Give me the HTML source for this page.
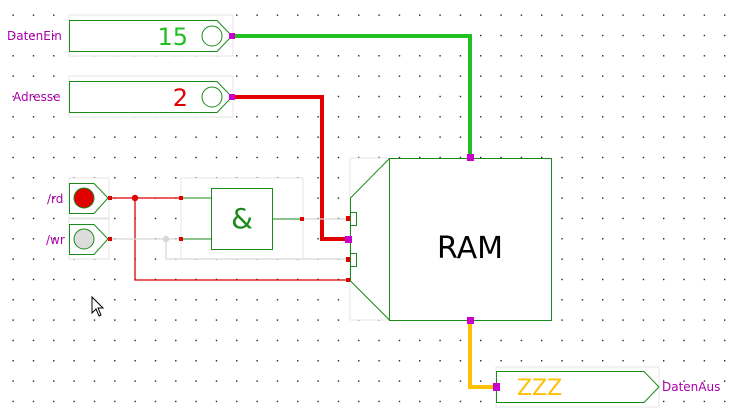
<!DOCTYPE html>
<html><head><meta charset="utf-8"><style>
html,body{margin:0;padding:0;background:#fff;width:733px;height:416px;overflow:hidden}
svg{display:block}
text{font-family:"DejaVu Sans","Liberation Sans",sans-serif}
</style></head><body>
<svg width="733" height="416" viewBox="0 0 733 416" xmlns="http://www.w3.org/2000/svg">
<defs>
<pattern id="g" x="12" y="14" width="20.33" height="20.33" patternUnits="userSpaceOnUse">
<rect x="0.5" y="0.5" width="1.3" height="1.3" fill="#000"/>
</pattern>
</defs>
<rect width="733" height="416" fill="url(#g)"/>

<g fill="#fff" stroke="#e4e4e4" stroke-width="1">
<rect x="69" y="15" width="164" height="41"/>
<rect x="69" y="76" width="164" height="41"/>
<rect x="69" y="178" width="40" height="40"/>
<rect x="69" y="219" width="40" height="40"/>
<rect x="181" y="178" width="122" height="81"/>
<rect x="350" y="158" width="40" height="162"/>
<rect x="496" y="367" width="163" height="40"/>
</g>

<path d="M69.5 20.5H217L232 36L217 51.5H69.5Z" fill="#fff" stroke="#1a8a1a"/>
<circle cx="212" cy="36" r="10" fill="none" stroke="#1a8a1a"/>
<text x="188" y="45" font-size="24" fill="#22c022" text-anchor="end">15</text>
<text x="7" y="40" font-size="12" fill="#aa00aa">DatenEin</text>
<path d="M69.5 81.5H217L232 97L217 112.5H69.5Z" fill="#fff" stroke="#1a8a1a"/>
<circle cx="212" cy="97" r="10" fill="none" stroke="#1a8a1a"/>
<text x="188" y="106" font-size="24" fill="#e00000" text-anchor="end">2</text>
<text x="13" y="101" font-size="12" fill="#aa00aa">Adresse</text>

<path d="M233 36H470V157" fill="none" stroke="#22c022" stroke-width="4"/>
<path d="M233 97H322V239H348" fill="none" stroke="#e00000" stroke-width="4"/>
<path d="M470 320V387H496" fill="none" stroke="#ffc000" stroke-width="4"/>

<path d="M69.5 183.5H94L108 198L94 213.5H69.5Z" fill="#fff" stroke="#1a8a1a"/>
<circle cx="84" cy="198" r="10" fill="#e00000" stroke="#1a8a1a"/>
<path d="M69.5 224.5H94L108 239L94 254.5H69.5Z" fill="#fff" stroke="#1a8a1a"/>
<circle cx="84" cy="239" r="10" fill="#dcdcdc" stroke="#1a8a1a"/>
<text x="47" y="203" font-size="12" fill="#aa00aa">/rd</text>
<text x="46" y="244" font-size="12" fill="#aa00aa">/wr</text>

<path d="M110 198H181M135 198V280H348" fill="none" stroke="#e00000" stroke-width="1.3"/>
<circle cx="135" cy="198" r="3.2" fill="#e00000"/>
<path d="M110 239H181M166 239V259H348M302 219H348" fill="none" stroke="#d8d8d8" stroke-width="1.3"/>
<circle cx="166" cy="239" r="3.2" fill="#d8d8d8"/>

<path d="M181 198H211M181 239H211M272 219H302" stroke="#1a8a1a" stroke-width="1"/>
<rect x="211.5" y="188.5" width="61" height="61" fill="#fff" stroke="#1a8a1a"/>
<text x="242" y="228" font-size="28" fill="#1a8a1a" text-anchor="middle">&amp;</text>

<path d="M389.5 158.5L350.5 198V281L389.5 320" fill="none" stroke="#1a8a1a"/>
<rect x="389.5" y="158.5" width="162" height="162" fill="#fff" stroke="#1a8a1a"/>
<text x="470" y="258" font-size="30" fill="#000" text-anchor="middle">RAM</text>
<path d="M350 212.5H356.5V225.5H350M350 253.5H356.5V266.5H350" fill="none" stroke="#1a8a1a"/>

<g fill="#e00000">
<rect x="108" y="196" width="4" height="4"/><rect x="108" y="237" width="4" height="4"/>
<rect x="179" y="196" width="4" height="4"/><rect x="179" y="237" width="4" height="4"/>
<rect x="300" y="217" width="4" height="4"/><rect x="346" y="216" width="4" height="5"/>
<rect x="346" y="257" width="4" height="5"/><rect x="346" y="278" width="4" height="4"/>
</g>
<g fill="#cc00cc">
<rect x="229" y="33" width="6" height="6"/><rect x="229" y="94" width="6" height="6"/>
<rect x="467" y="154" width="7" height="7"/><rect x="345" y="236" width="7" height="7"/>
<rect x="467" y="317" width="7" height="7"/>
</g>

<path d="M496.5 371.5H644L659 387L644 402.5H496.5Z" fill="#fff" stroke="#1a8a1a"/>
<rect x="493" y="383" width="7" height="8" fill="#cc00cc"/>
<text x="517" y="395" font-size="22" fill="#ffc000">ZZZ</text>
<text x="662" y="391" font-size="12" fill="#aa00aa">DatenAus</text>

<path d="M92 297V313L96 309L99 316L101 315L98 308H103Z" fill="#fff" stroke="#000" stroke-width="1"/>
</svg>
</body></html>
